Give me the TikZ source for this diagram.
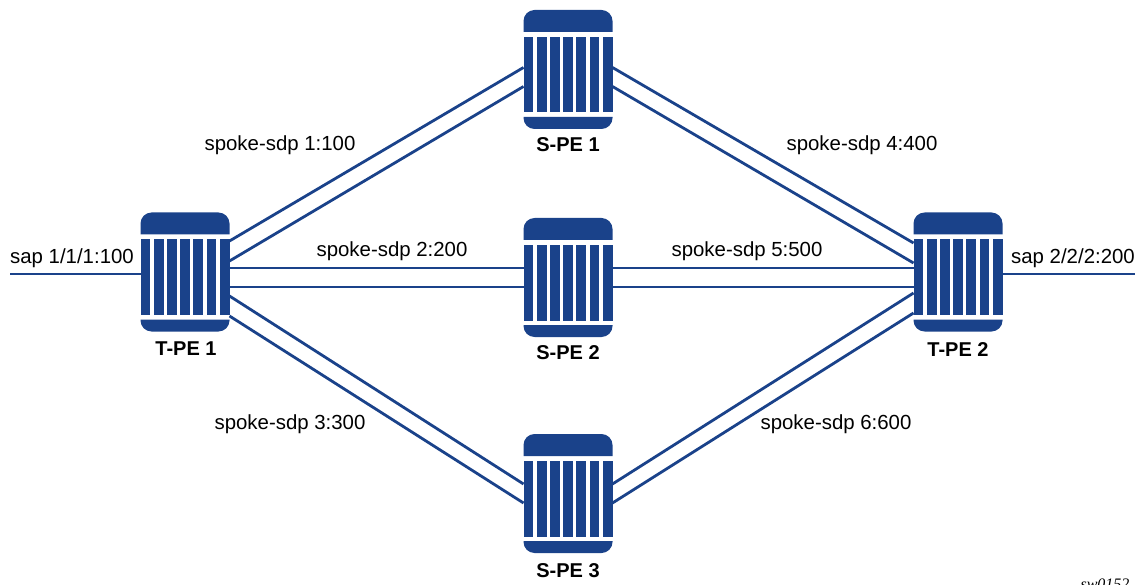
\documentclass[tikz,border=0pt]{standalone}
\usepackage{fontspec}
\setmainfont{Liberation Sans}
\newfontfamily\swfont{Liberation Serif}
\definecolor{nokia}{HTML}{1A428A}
\tikzset{
  x=1pt,y=1pt,
  routerbox/.style={minimum width=89pt,minimum height=119pt,inner sep=0pt,outer sep=0pt},
  link/.style={draw=nokia,line width=2.8pt},
  lbl/.style={font=\fontsize{20.4pt}{24pt}\selectfont,text=black,inner sep=0pt},
  rlbl/.style={font=\fontsize{20pt}{24pt}\selectfont\bfseries,text=black,inner sep=0pt},
  part/.style={fill=nokia,draw=none}
}
\newcommand{\router}[3]{%
  \node[routerbox] (#1) at (#2,#3) {};
  \begin{scope}[shift={(#2-44.5,#3+59.5)}]
    \fill[part] (0,-22) -- (0,-11) arc[start angle=180,end angle=90,radius=11] -- (78,0) arc[start angle=90,end angle=0,radius=11] -- (89,-22) -- cycle;
    \fill[part] (0,-107) -- (0,-108) arc[start angle=180,end angle=270,radius=11] -- (78,-119) arc[start angle=270,end angle=360,radius=11] -- (89,-107) -- cycle;
    \foreach \i in {0,...,6} {\fill[part] ({\i*13.2},-27) rectangle ({\i*13.2+9.8},-102.5);}
  \end{scope}}
\begin{document}
\begin{tikzpicture}
\useasboundingbox (0,0) rectangle (1140,-585);
\router{t1}{185}{-272}
\router{s1}{568}{-69.5}
\router{s2}{568}{-277.5}
\router{s3}{568}{-493.5}
\router{t2}{958}{-272}
\coordinate (sapl) at (10,-274);
\coordinate (sapr) at (1135,-274);
% links
\draw[link] ([yshift=31pt]t1.east) -- ([yshift=2pt]s1.west);
\draw[link] ([yshift=11pt]t1.east) -- ([yshift=-17pt]s1.west);
\draw[link] ([yshift=4pt]t1.east) -- ([yshift=9.5pt]s2.west);
\draw[link] ([yshift=-15pt]t1.east) -- ([yshift=-9.5pt]s2.west);
\draw[link] ([yshift=-24pt]t1.east) -- ([yshift=9.5pt]s3.west);
\draw[link] ([yshift=-44pt]t1.east) -- ([yshift=-9.5pt]s3.west);
\draw[link] ([yshift=2pt]s1.east) -- ([yshift=29pt]t2.west);
\draw[link] ([yshift=-17pt]s1.east) -- ([yshift=9pt]t2.west);
\draw[link] ([yshift=9.5pt]s2.east) -- ([yshift=4pt]t2.west);
\draw[link] ([yshift=-9.5pt]s2.east) -- ([yshift=-15pt]t2.west);
\draw[link] ([yshift=9.5pt]s3.east) -- ([yshift=-21pt]t2.west);
\draw[link] ([yshift=-9.5pt]s3.east) -- ([yshift=-41pt]t2.west);
\draw[link] (sapl) -- ([yshift=-2pt]t1.west);
\draw[link] ([yshift=-2pt]t2.east) -- (sapr);
% labels
\node[lbl] (l1) at (280,-145.5) {spoke-sdp 1:100};
\node[lbl] (l2) at (392,-251.5) {spoke-sdp 2:200};
\node[lbl] (l3) at (290,-424.5) {spoke-sdp 3:300};
\node[lbl] (l4) at (862,-145.5) {spoke-sdp 4:400};
\node[lbl] (l5) at (747,-251.5) {spoke-sdp 5:500};
\node[lbl] (l6) at (836,-424.5) {spoke-sdp 6:600};
\node[lbl] (sl) at (72,-258.5) {sap 1/1/1:100};
\node[lbl] (sr) at (1073,-258.5) {sap 2/2/2:200};
\node[rlbl] (n1) at (186,-348.5) {T-PE 1};
\node[rlbl] (n2) at (568,-144.5) {S-PE 1};
\node[rlbl] (n3) at (568,-352.5) {S-PE 2};
\node[rlbl] (n4) at (568,-570.5) {S-PE 3};
\node[rlbl] (n5) at (958,-349.5) {T-PE 2};
\node[font=\swfont\itshape\fontsize{16pt}{18pt}\selectfont,anchor=base,inner sep=0pt] (sw) at (1105,-589) {sw0152};
\end{tikzpicture}
\end{document}
